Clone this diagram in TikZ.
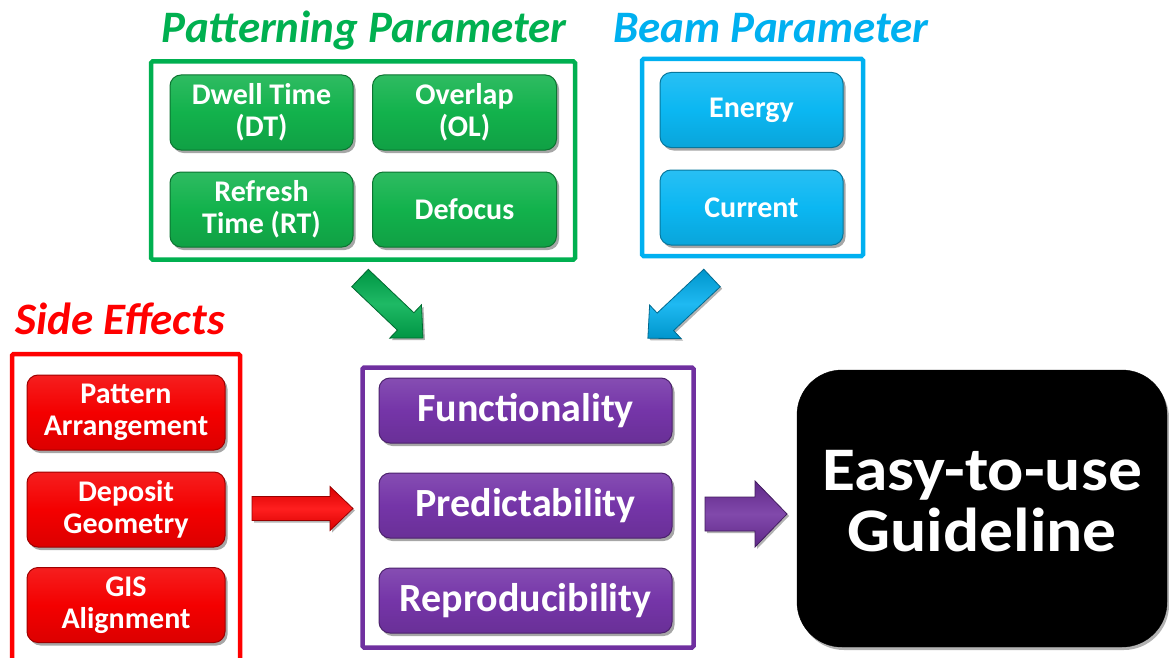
\documentclass[tikz,border=0pt]{standalone}
\usepackage{fontspec}
\setmainfont{Carlito}
\usetikzlibrary{shadows,calc}
\definecolor{pgreen}{HTML}{00B050}
\definecolor{bgreen}{HTML}{12B24C}
\definecolor{pcyan}{HTML}{00B0F0}
\definecolor{bcyan}{HTML}{0BB7F2}
\definecolor{pred}{HTML}{FF0000}
\definecolor{bred}{HTML}{F40000}
\definecolor{ppurple}{HTML}{7030A0}
\definecolor{bpurple}{HTML}{7535A8}
\tikzset{
  frame/.style={draw=#1, line width=4.5pt, rounded corners=1.5pt, inner sep=0pt},
  btn/.style={rounded corners=11pt, draw=#1!65!black, line width=1pt,
    top color=#1!88!white, bottom color=#1!90!black, middle color=#1,
    text=white, font=\bfseries\fontsize{30}{32}\selectfont, align=center, inner sep=0pt,
    drop shadow={shadow xshift=2.5pt, shadow yshift=-3pt, opacity=0.35, fill=black}},
  pbtn/.style={btn=bpurple, font=\bfseries\fontsize{40}{42}\selectfont,
    minimum width=293pt, minimum height=65pt},
  ttl/.style={text=#1, font=\bfseries\itshape\fontsize{45}{47}\selectfont, inner sep=0pt, anchor=base},
  barrow/.style={draw=#1!60!black, line width=0.8pt, line join=miter,
    top color=#1!85!black, bottom color=#1!85!black, middle color=#1!88!white,
    drop shadow={shadow xshift=2pt, shadow yshift=-2pt, opacity=0.3, fill=black}},
}
% color, tail coordinate, canvas angle, length, shaft half width, head half width, head length
\newcommand\blockarrow[7]{%
  \begin{scope}[shift={(#2)}, rotate=#3]
    \path[barrow=#1] (0,-#5) -- ({#4-#7},-#5) -- ({#4-#7},-#6) -- (#4,0)
      -- ({#4-#7},#6) -- ({#4-#7},#5) -- (0,#5) -- cycle;
  \end{scope}}
\begin{document}
\begin{tikzpicture}[x=1pt,y=-1pt]
\useasboundingbox (0,0) rectangle (1169,658);
\clip (0,0) rectangle (1169,658);
\fill[white] (0,0) rectangle (1169,658);

% ---------- Patterning Parameter ----------
\node[ttl=pgreen] (tpat) at (364,43) {Patterning Parameter};
\node[frame=pgreen, minimum width=424pt, minimum height=198pt] (pbox) at (363,160.5) {};
\node[btn=bgreen, minimum width=183pt, minimum height=75pt] (dt) at (261.5,112.5) {Dwell Time\\(DT)};
\node[btn=bgreen, minimum width=184pt, minimum height=75pt] (ol) at (464.5,112.5) {Overlap\\(OL)};
\node[btn=bgreen, minimum width=183pt, minimum height=75pt] (rt) at (261.5,209.5) {Refresh\\Time (RT)};
\node[btn=bgreen, minimum width=184pt, minimum height=75pt] (df) at (464.5,209.5) {Defocus};

% ---------- Beam Parameter ----------
\node[ttl=pcyan] (tbeam) at (771,43) {Beam Parameter};
\node[frame=pcyan, minimum width=221pt, minimum height=197pt] (bbox) at (752.5,157.5) {};
\node[btn=bcyan, minimum width=183pt, minimum height=75pt] (en) at (751.5,110) {Energy};
\node[btn=bcyan, minimum width=183pt, minimum height=75pt] (cu) at (751.5,207.5) {Current};

% ---------- Side Effects ----------
\node[ttl=pred] (tside) at (120,334) {Side Effects};
\node[frame=pred, minimum width=228pt, minimum height=330pt] (sbox) at (126,519) {};
\node[btn=bred, minimum width=198pt, minimum height=75pt] (pa) at (126,412.5) {Pattern\\Arrangement};
\node[btn=bred, minimum width=198pt, minimum height=75pt] (dg) at (126,509.5) {Deposit\\Geometry};
\node[btn=bred, minimum width=198pt, minimum height=75pt] (ga) at (126,605) {GIS\\Alignment};

% ---------- Central box ----------
\node[frame=ppurple, minimum width=331pt, minimum height=280pt] (cbox) at (528,507.5) {};
\node[pbtn] (fu) at (525.5,410.5) {Functionality};
\node[pbtn] (pr) at (525.5,505.5) {Predictability};
\node[pbtn] (re) at (525.5,600.5) {Reproducibility};

% ---------- Guideline ----------
\node[fill=black, draw=black, rounded corners=45pt, minimum width=370pt, minimum height=277pt,
  inner sep=0pt,
  drop shadow={shadow xshift=2pt, shadow yshift=-3pt, opacity=0.3, fill=black}] (guide) at (982,508.5) {};
\node[text=white, font=\bfseries\fontsize{62}{61}\selectfont, align=center, inner sep=0pt]
  (gtext) at ($(guide.center)+(0,-7)$) {\scalebox{1.09}[1]{Easy-to-use}\\\scalebox{1.09}[1]{Guideline}};

% ---------- Block arrows ----------
\coordinate (gat) at (360,278);
\coordinate (cat) at (712,278);
\coordinate (rat) at (252,508.5);
\coordinate (pat) at (705,514);
\blockarrow{pgreen}{gat}{-43.6}{87}{12}{23}{24}
\blockarrow{pcyan}{cat}{-136.8}{88}{12}{23}{24}
\blockarrow{pred}{rat}{0}{101}{12}{22}{23}
\blockarrow{ppurple}{pat}{0}{82}{17}{33}{32}
\end{tikzpicture}
\end{document}
